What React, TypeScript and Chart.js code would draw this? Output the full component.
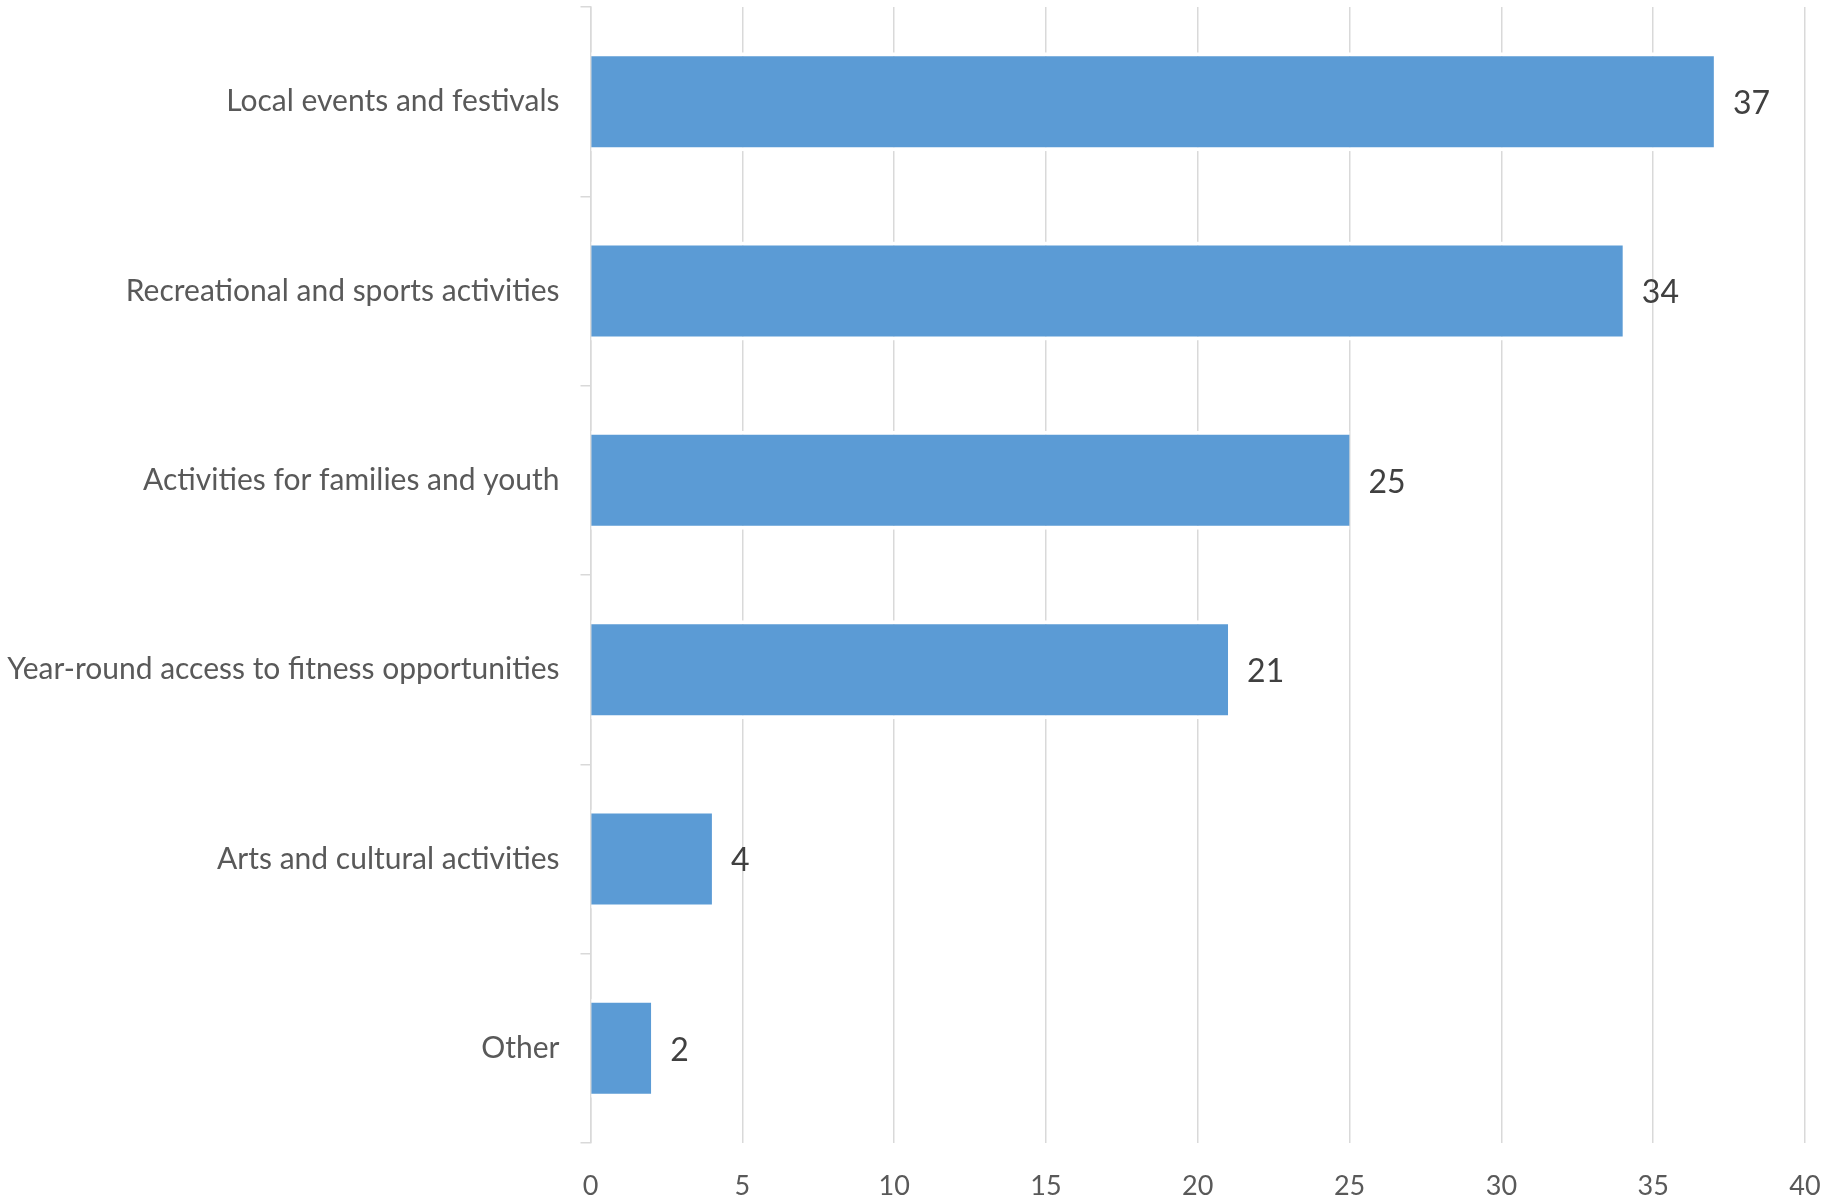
import React, { useEffect, useRef } from "react";
import { Chart, registerables } from "chart.js";

Chart.register(...registerables);

const categories = [
  "Local events and festivals",
  "Recreational and sports activities",
  "Activities for families and youth",
  "Year-round access to fitness opportunities",
  "Arts and cultural activities",
  "Other",
];
const values = [37, 34, 25, 21, 4, 2];
const xMin = 0;
const xMax = 40;
const xStep = 5;

const FONT = "Lato, 'Open Sans', sans-serif";

const dataLabelPlugin = {
  id: "dataLabels",
  afterDatasetsDraw(chart: any) {
    const ctx = chart.ctx;
    const meta = chart.getDatasetMeta(0);
    ctx.save();
    ctx.font = `32px ${FONT}`;
    ctx.fillStyle = "#404040";
    ctx.textAlign = "left";
    ctx.textBaseline = "middle";
    meta.data.forEach((bar: any, i: number) => {
      ctx.fillText(String(values[i]), bar.x + 19, bar.y + 2);
    });
    ctx.restore();
  },
};

export default function App() {
  const ref = useRef<HTMLCanvasElement | null>(null);
  useEffect(() => {
    if (!ref.current) return;
    const chart = new Chart(ref.current, {
      type: "bar",
      data: {
        labels: categories,
        datasets: [
          {
            data: values,
            backgroundColor: "#5B9BD5",
            borderColor: "#FFFFFF",
            borderWidth: { top: 4, bottom: 4, left: 0, right: 0 } as any,
            borderSkipped: false,
            barPercentage: 0.523,
            categoryPercentage: 1,
          },
        ],
      },
      options: {
        indexAxis: "y",
        animation: false,
        responsive: false,
        maintainAspectRatio: false,
        layout: { padding: { top: 7, right: 36, left: 0, bottom: 0 } },
        plugins: {
          legend: { display: false },
          tooltip: { enabled: false },
          title: { display: false },
        },
        scales: {
          x: {
            min: xMin,
            max: xMax,
            z: 0,
            ticks: {
              stepSize: xStep,
              color: "#595959",
              font: { family: FONT, size: 27 },
              padding: 27,
            },
            grid: {
              color: "#D9D9D9",
              lineWidth: 1.5,
              drawTicks: false,
            },
            border: { display: false },
            afterFit(scale: any) {
              scale.height = 58;
              scale.paddingRight = 0;
            },
          },
          y: {
            z: 1,
            offset: true,
            ticks: {
              color: "#595959",
              font: { family: FONT, size: 30 },
              padding: 21,
            },
            grid: {
              offset: true,
              drawOnChartArea: false,
              drawTicks: true,
              tickLength: 10,
              color: "#D9D9D9",
              lineWidth: 1.5,
            },
            border: { display: true, color: "#D9D9D9", width: 1.5 },
            afterFit(scale: any) {
              scale.width = 590.5;
              scale.paddingTop = 0;
              scale.paddingBottom = 0;
            },
          },
        },
      },
      plugins: [dataLabelPlugin],
    });
    return () => chart.destroy();
  }, []);
  return (
    <div style={{ position: "fixed", left: 0, top: 0, width: 1841, height: 1201, background: "#fff" }}>
      <canvas ref={ref} width={1841} height={1201} style={{ width: 1841, height: 1201 }} />
    </div>
  );
}
